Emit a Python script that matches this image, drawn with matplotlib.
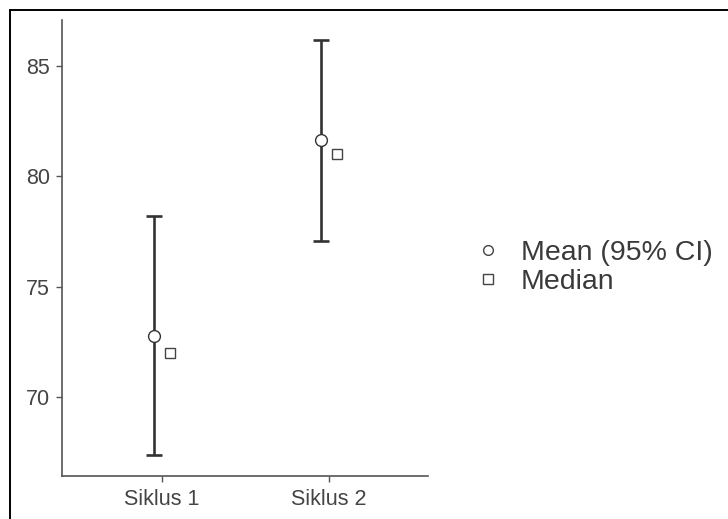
import matplotlib
matplotlib.use('Agg')
import matplotlib.pyplot as plt
from matplotlib.lines import Line2D

# values
groups = ['Siklus 1', 'Siklus 2']
means = [72.75, 81.63]
ci_low = [67.35, 77.07]
ci_high = [78.19, 86.18]
medians = [72.0, 81.0]
yticks = [70, 75, 80, 85]

W, H = 728, 519
fig = plt.figure(figsize=(W / 100, H / 100), dpi=100)
plt.rcParams['font.family'] = ['Liberation Sans', 'DejaVu Sans']

ax = fig.add_axes([62 / W, 1 - 476 / H, (428 - 62) / W, (476 - 20) / H])

dark = '#333333'
x = list(range(1, len(groups) + 1))
xm = [v - 0.05 for v in x]
xs = [v + 0.05 for v in x]
err = [[m - lo for m, lo in zip(means, ci_low)], [hi - m for m, hi in zip(means, ci_high)]]

ax.errorbar(xm, means, yerr=err, fmt='none', ecolor=dark, elinewidth=1.9,
            capsize=5.8, capthick=1.9, zorder=2)
ax.plot(xm, means, 'o', ms=8.5, mfc='white', mec=dark, mew=1.0, zorder=3)
ax.plot(xs, medians, 's', ms=7.5, mfc='white', mec='#444444', mew=1.0, zorder=3)

ax.set_xlim(0.401, 2.593)
ax.set_ylim(66.42, 87.08)
ax.set_xticks(x)
ax.set_xticklabels(groups)
ax.set_yticks(yticks)

for s in ['top', 'right']:
    ax.spines[s].set_visible(False)
for s in ['left', 'bottom']:
    ax.spines[s].set_color('#555555')
    ax.spines[s].set_linewidth(1.2)
ax.tick_params(axis='both', colors='#555555', width=1.0, length=4.5,
               labelsize=15.5, labelcolor='#444444', pad=5)
ax.tick_params(axis='y', pad=4)

handles = [
    Line2D([], [], ls='none', marker='o', ms=7.0, mfc='white', mec='#444444', mew=1.0),
    Line2D([], [], ls='none', marker='s', ms=6.5, mfc='white', mec='#444444', mew=1.0),
]
fig.legend(handles, ['Mean (95% CI)', 'Median'], loc='center left',
           bbox_to_anchor=(474 / W, 1 - 267.5 / H), frameon=False,
           fontsize=20.5, labelcolor='#3a3a3a', handletextpad=0.65,
           labelspacing=0.13, handlelength=1.0, borderpad=0, borderaxespad=0)

# partial frame around the picture
fig.add_artist(Line2D([10 / W, 1], [1 - 9.5 / H, 1 - 9.5 / H], transform=fig.transFigure,
                      color='black', lw=1.4))
fig.add_artist(Line2D([10 / W, 10 / W], [0, 1 - 9.5 / H], transform=fig.transFigure,
                      color='black', lw=1.4))

fig.savefig('out.png', dpi=100)
